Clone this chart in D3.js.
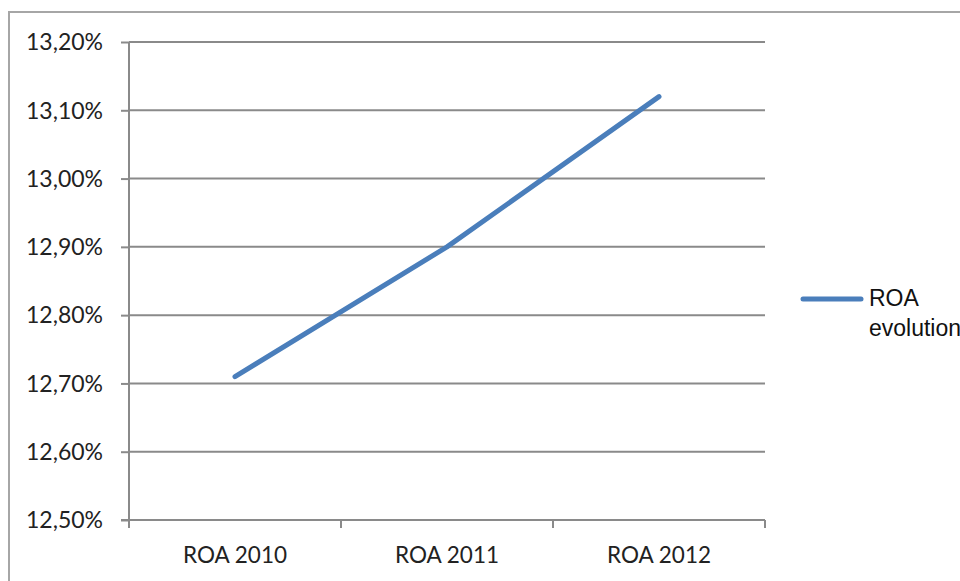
<!DOCTYPE html>
<html>
<head>
<meta charset="utf-8">
<script src="https://cdn.jsdelivr.net/npm/d3@7"></script>
<style>
  html, body { margin: 0; padding: 0; background: #fff; overflow: hidden; }
  svg { display: block; }
</style>
</head>
<body>
<svg id="chart" width="960" height="581"></svg>
<script>
// ROA by year (percent)
const categories = ["ROA 2010", "ROA 2011", "ROA 2012"];
const roaValues = [12.71, 12.90, 13.12];
const seriesName = ["ROA", "evolution"];
const yTicks = [12.5, 12.6, 12.7, 12.8, 12.9, 13.0, 13.1, 13.2];

const svg = d3.select("#chart");
const W = 960, H = 581;
const plot = { left: 129, right: 765, top: 42, bottom: 520 };

const gridColor = "#8a8a8a";
const lineColor = "#4a7ebb";
const fontFamily = "Lato, 'Open Sans', sans-serif";

svg.append("rect").attr("width", W).attr("height", H).attr("fill", "#fff");

// chart frame
svg.append("rect")
  .attr("x", 9).attr("y", 12)
  .attr("width", W + 20).attr("height", H + 20)
  .attr("fill", "none")
  .attr("stroke", "#a6a6a6")
  .attr("stroke-width", 2);

const x = d3.scaleBand().domain(categories).range([plot.left, plot.right]).padding(0);
const y = d3.scaleLinear().domain([12.5, 13.2]).range([plot.bottom, plot.top]);

const fmt = v => d3.format(".2f")(v).replace(".", ",") + "%";

// horizontal gridlines
svg.append("g").selectAll("line").data(yTicks).join("line")
  .attr("x1", plot.left).attr("x2", plot.right)
  .attr("y1", d => y(d)).attr("y2", d => y(d))
  .attr("stroke", gridColor).attr("stroke-width", 2);

// y axis
const yAxis = d3.axisLeft(y).tickValues(yTicks).tickFormat(fmt).tickSize(8).tickPadding(18);
const gy = svg.append("g").attr("transform", `translate(${plot.left},0)`).call(yAxis);
gy.select(".domain").attr("stroke", gridColor).attr("stroke-width", 2)
  .attr("d", `M0,${plot.top}V${plot.bottom}`);
gy.selectAll(".tick line").attr("stroke", gridColor).attr("stroke-width", 2);
gy.selectAll(".tick text")
  .attr("font-family", fontFamily).attr("font-size", 23)
  .attr("fill", "#222").attr("dy", "0.34em");

// x axis with ticks at category boundaries
const gx = svg.append("g").attr("transform", `translate(0,${plot.bottom})`);
gx.append("line").attr("x1", plot.left - 8).attr("x2", plot.right)
  .attr("stroke", gridColor).attr("stroke-width", 2);
const boundaries = categories.map(c => x(c)).concat([x(categories[categories.length - 1]) + x.bandwidth()]);
gx.selectAll("line.tk").data(boundaries).join("line").attr("class", "tk")
  .attr("x1", d => d).attr("x2", d => d).attr("y1", 0).attr("y2", 8)
  .attr("stroke", gridColor).attr("stroke-width", 2);
gx.selectAll("text").data(categories).join("text")
  .attr("x", d => x(d) + x.bandwidth() / 2)
  .attr("y", 43)
  .attr("text-anchor", "middle")
  .attr("font-family", fontFamily).attr("font-size", 22.5)
  .attr("fill", "#222")
  .text(d => d);

// ROA line
const line = d3.line()
  .x((d, i) => x(categories[i]) + x.bandwidth() / 2)
  .y(d => y(d));
svg.append("path").datum(roaValues)
  .attr("d", line)
  .attr("fill", "none")
  .attr("stroke", lineColor)
  .attr("stroke-width", 5)
  .attr("stroke-linecap", "round")
  .attr("stroke-linejoin", "round");

// legend
const lg = svg.append("g").attr("transform", "translate(803,299)");
lg.append("line").attr("x1", 0).attr("x2", 58).attr("y1", 0).attr("y2", 0)
  .attr("stroke", lineColor).attr("stroke-width", 5).attr("stroke-linecap", "round");
lg.selectAll("text").data(seriesName).join("text")
  .attr("x", 66).attr("y", (d, i) => 7 + i * 30)
  .attr("font-family", "'Liberation Sans', Arial, sans-serif").attr("font-size", 23)
  .attr("fill", "#111")
  .text(d => d);
</script>
</body>
</html>
